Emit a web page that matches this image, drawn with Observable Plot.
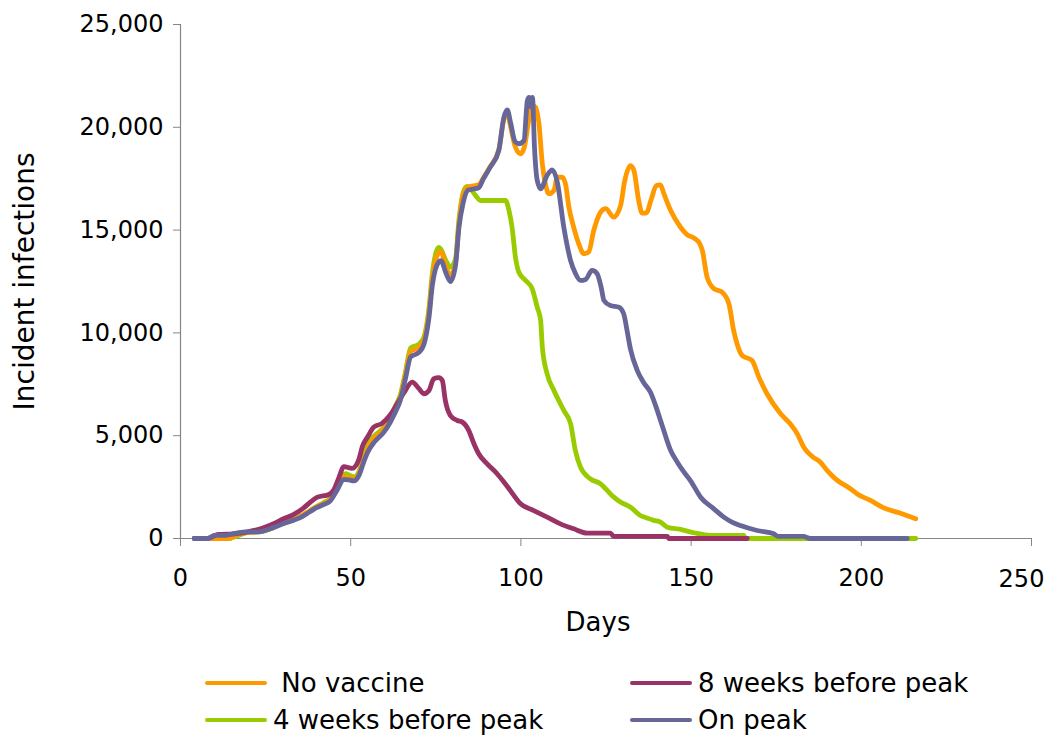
<!DOCTYPE html>
<html>
<head>
<meta charset="utf-8">
<script src="https://cdn.jsdelivr.net/npm/d3@7"></script>
<script src="https://cdn.jsdelivr.net/npm/@observablehq/plot@0.6"></script>
<style>
  body { margin: 0; background: #fff; font-family: "DejaVu Sans", Verdana, sans-serif; }
  #wrap { position: relative; width: 1050px; height: 749px; overflow: hidden; }
  .leg { position: absolute; display: flex; align-items: center; font-size: 26px; color: #000; white-space: pre; line-height: 32px; }
  .sw { width: 62px; height: 4px; border-radius: 2px; margin-right: 6px; }
</style>
</head>
<body>
<div id="wrap"><div id="chart"></div></div>
<script>
// ---- Data ----
const xTicks = [0, 50, 100, 150, 200, 250];
const yTicks = [0, 5000, 10000, 15000, 20000, 25000];

const seriesNames = ["No vaccine", "8 weeks before peak", "4 weeks before peak", "On peak"];
const seriesColors = ["#FF9900", "#993366", "#99CC00", "#666699"];

const noVaccineDays = [9,14,17,20,23,26,29,32,35,38,40,42,44,46,48,49.5,51,52.4,54,55.3,57,59.7,61.7,63,64.6,66.1,67.6,70,71.5,73,74,75.9,76.5,78,79.3,80.8,81.8,83,84.5,86,87.6,89,91,93.5,95,96,97,98.4,99.9,101,102.3,103.3,104.3,105.3,106.3,107.2,108.2,109.7,110.7,112.1,113.1,114.1,115.5,117,118.5,119.9,121.4,123.4,124.9,127.3,129.3,130.5,132.2,133.2,134.6,135.6,136.8,138.3,139.8,141,142,144,146.9,148.8,151,152.5,153.3,154.7,156.7,159.1,161.1,162.5,163.5,165,167.9,169.9,172.3,176.3,179,181.2,183.1,185.5,188,190,192.4,196.8,198.8,202.7,206.6,211.5,216];
const noVaccineValues = [0,0,200,300,320,450,660,850,1050,1350,1550,1700,1900,2450,3000,2950,2900,3150,3950,4500,4900,5300,5800,6300,6900,8000,9100,9300,9650,11000,12700,13900,13950,13200,12800,13400,15300,16700,17100,17150,17200,17550,18100,18900,20400,20700,20000,19030,18710,19030,20330,21060,20980,20170,18220,17250,16770,16930,17570,17570,17250,16110,15140,14330,13850,13930,14980,15870,16040,15630,16200,17400,18140,17900,16440,15830,15830,16500,17170,17200,16770,15950,15140,14780,14600,14350,14010,12710,12150,11980,11420,10120,9470,8900,8660,7850,7040,6070,5600,5090,4440,4000,3710,3300,2900,2420,2170,1850,1490,1230,960];

const eightWeeksDays = [4,8,11,16,20,23.5,27,30.3,33,36.2,38,40.2,43.6,45,46.5,48,50.4,52.4,53.4,55,56.8,59.2,61.7,63.5,65.6,68.1,70,71.5,73,74.4,75.9,76.9,77.8,79.3,81.3,82.8,84.7,86.2,87.6,90.1,93,95,96.9,99.9,103.8,107.7,111.6,115.5,119.5,126.3,127.3,143,143.5,166.5];
const eightWeeksValues = [0,0,200,230,330,470,700,960,1150,1490,1750,2010,2140,2360,2950,3500,3410,3850,4460,4950,5420,5600,6030,6500,7080,7610,7300,7040,7200,7770,7820,7690,6710,5980,5740,5660,5250,4610,4120,3630,3150,2750,2330,1690,1360,1040,710,470,260,260,100,100,0,0];

const fourWeeksDays = [9,14,17,20,23,26,29,32,35,38,40,42.1,44,46,48.5,50,51,52.4,54,55.3,57,59.7,61.7,63,64.6,66.1,67.6,70,71.5,73,74,75.9,76.4,78,79.3,80.8,81.8,83,84.2,84.6,86.7,88.1,95.5,96.5,97.4,98.4,99.4,101.4,103.3,104.8,105.8,106.3,107.7,109.7,112.6,114.6,116,117.5,120.4,123.4,125,127.3,129,132.2,135.1,137,139,141,143,146.9,150.8,155.7,165.5,166,216];
const fourWeeksValues = [0,0,150,300,320,450,660,850,1050,1350,1550,1750,1950,2550,3150,3050,3000,3250,4100,4720,5000,5400,5900,6400,7000,8100,9270,9450,9790,11200,12900,14160,14090,13500,13200,13600,15500,16800,17120,17100,16680,16440,16440,15950,15140,13680,12950,12550,12150,11250,10600,9300,8010,7200,6230,5580,4280,3470,2900,2660,2400,2010,1800,1520,1120,1000,880,800,550,440,280,150,150,0,0];

const onPeakDays = [4,8,10,13,16,20,23,26,29,32,35,38,40,42,44,46,48,49.5,51,52.4,54,55,57,59.7,61.7,63,64.6,66.1,67.6,70,71.5,73,74,75.9,76.5,78,79.3,80.8,81.8,83,84.5,86,87.6,89,91,93.5,95,96,97,98.3,99.4,100.9,101.9,102.4,102.9,103.4,104,104.8,105.8,107.7,109.2,110.7,112.6,114.6,116,117.5,119,120.9,122.4,123.6,124.4,126.3,128.8,130.2,131.2,132.2,134.2,136,138.1,139.5,141.5,144,146,147.6,149.8,152.8,156.7,159.6,162,164.5,169.4,174.3,175.5,183,185,213.5];
const onPeakValues = [0,0,150,150,250,320,320,450,650,820,1000,1300,1500,1650,1830,2350,2880,2850,2800,3060,3800,4200,4700,5160,5680,6100,6730,7780,8830,9050,9440,10750,12330,13460,13520,12900,12500,13300,15130,16300,16950,17000,17060,17500,18060,18870,20490,20850,20200,19300,19200,19360,21300,21450,21000,21450,19000,17410,17010,17660,17930,17330,15140,13520,12900,12550,12600,13040,12880,12200,11580,11330,11250,10930,10100,9200,8170,7600,7100,6500,5500,4280,3700,3300,2820,2010,1440,1040,800,630,390,230,100,100,0,0];

// ---- Build tables ----
const toRows = (days, values) => days.map((d, i) => ({day: d, value: values[i]}));
const noVaccine = toRows(noVaccineDays, noVaccineValues);
const eightWeeks = toRows(eightWeeksDays, eightWeeksValues);
const fourWeeks = toRows(fourWeeksDays, fourWeeksValues);
const onPeak = toRows(onPeakDays, onPeakValues);

const lineOpts = (color) => ({x: "day", y: "value", stroke: color, strokeWidth: 4.8, curve: "monotone-x", strokeLinejoin: "round", strokeLinecap: "round"});
const axisGrey = "#868686";
const lastX = xTicks[xTicks.length - 1];

const chart = Plot.plot({
  width: 1050,
  height: 650,
  marginLeft: 180,
  marginRight: 19,
  marginTop: 24,
  marginBottom: 112,
  x: {domain: [0, 250]},
  y: {domain: [0, 25000]},
  style: {fontFamily: "'DejaVu Sans', Verdana, sans-serif", fontSize: "24px", color: "#000", background: "#fff"},
  marks: [
    Plot.ruleX([0], {stroke: axisGrey, strokeWidth: 1.2}),
    Plot.ruleY([0], {stroke: axisGrey, strokeWidth: 1.2}),
    Plot.axisY({ticks: yTicks, tickFormat: d3.format(","), tickSize: 7, tickPadding: 10, stroke: axisGrey, fill: "#000", fontSize: 24, label: null}),
    Plot.axisX({ticks: xTicks, tickFormat: d => d === lastX ? "" : String(d), tickSize: 8, tickPadding: 22, stroke: axisGrey, fill: "#000", fontSize: 24, label: null}),
    Plot.text([lastX], {x: d => d, text: d => String(d), frameAnchor: "bottom", dy: 41, dx: -10, fontSize: 24, fill: "#000", lineAnchor: "middle", textAnchor: "middle"}),
    Plot.line(fourWeeks, lineOpts(seriesColors[2])),
    Plot.line(noVaccine, lineOpts(seriesColors[0])),
    Plot.line(eightWeeks, lineOpts(seriesColors[1])),
    Plot.line(onPeak, lineOpts(seriesColors[3])),
    Plot.text(["Incident infections"], {frameAnchor: "left", rotate: -90, dx: -155, fontSize: 28, fill: "#000", lineAnchor: "middle", textAnchor: "middle"}),
    Plot.text(["Days"], {frameAnchor: "bottom", dy: 84, dx: -8, fontSize: 26, fill: "#000", lineAnchor: "middle", textAnchor: "middle"})
  ]
});
document.getElementById("chart").appendChild(chart);

// ---- Legend (HTML, below the SVG) ----
const legendItems = [
  {label: " " + seriesNames[0], color: seriesColors[0], left: 205, top: 667},
  {label: seriesNames[1], color: seriesColors[1], left: 630, top: 667},
  {label: seriesNames[2], color: seriesColors[2], left: 205, top: 704},
  {label: seriesNames[3], color: seriesColors[3], left: 630, top: 704}
];
const wrap = document.getElementById("wrap");
for (const it of legendItems) {
  const div = document.createElement("div");
  div.className = "leg";
  div.style.left = it.left + "px";
  div.style.top = it.top + "px";
  const sw = document.createElement("span");
  sw.className = "sw";
  sw.style.background = it.color;
  const tx = document.createElement("span");
  tx.textContent = it.label;
  div.appendChild(sw);
  div.appendChild(tx);
  wrap.appendChild(div);
}
</script>
</body>
</html>
